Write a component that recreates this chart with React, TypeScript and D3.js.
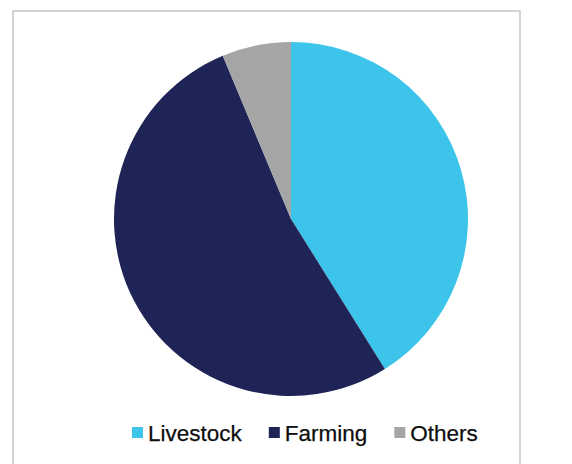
import React, { useEffect, useRef } from "react";
import * as d3 from "d3";

const categories = ["Livestock", "Farming", "Others"];
const values = [41.1, 52.6, 6.3];
const colors = ["#3CC4EA", "#1F2456", "#A5A5A5"];

const W = 572;
const H = 464;

export default function App() {
  const ref = useRef<SVGSVGElement | null>(null);

  useEffect(() => {
    const svg = d3.select(ref.current);
    svg.selectAll("*").remove();

    svg
      .append("rect")
      .attr("x", 0)
      .attr("y", 0)
      .attr("width", W)
      .attr("height", H)
      .attr("fill", "#ffffff");

    svg
      .append("rect")
      .attr("x", 13)
      .attr("y", 11)
      .attr("width", 507)
      .attr("height", 470)
      .attr("fill", "#ffffff")
      .attr("stroke", "#d4d4d4")
      .attr("stroke-width", 2);

    const cx = 291;
    const cy = 219;
    const r = 177;

    const pie = d3
      .pie<number>()
      .sort(null)
      .value((d) => d);
    const arcs = pie(values);
    const arc = d3.arc<d3.PieArcDatum<number>>().innerRadius(0).outerRadius(r);

    const g = svg.append("g").attr("transform", `translate(${cx},${cy})`);
    g.selectAll("path")
      .data(arcs)
      .enter()
      .append("path")
      .attr("d", arc)
      .attr("fill", (_d, i) => colors[i]);

    // legend
    const legend = svg.append("g");
    const fontSize = 22.5;
    const baseline = 441;
    let x = 132;
    categories.forEach((c, i) => {
      legend
        .append("rect")
        .attr("x", x)
        .attr("y", 427)
        .attr("width", 11)
        .attr("height", 11)
        .attr("fill", colors[i]);
      const t = legend
        .append("text")
        .attr("x", x + 16)
        .attr("y", baseline)
        .attr("font-family", "Liberation Sans, Arial, sans-serif")
        .attr("font-size", fontSize)
        .attr("fill", "#0d0d0d")
        .attr("stroke", "#0d0d0d")
        .attr("stroke-width", 0.25)
        .text(c);
      const w = (t.node() as SVGTextElement).getComputedTextLength();
      x = x + 16 + w + 27;
    });
  }, []);

  return (
    <div style={{ position: "absolute", left: 0, top: 0, width: W, height: H }}>
      <svg ref={ref} width={W} height={H} style={{ display: "block" }} />
    </div>
  );
}
